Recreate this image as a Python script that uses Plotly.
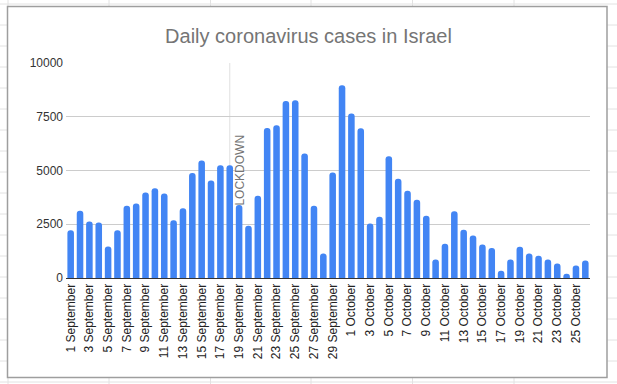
import plotly.graph_objects as go

sep_days = [f"{d} September" for d in range(1, 31)]
oct_days = [f"{d} October" for d in range(1, 27)]
dates = sep_days + oct_days

cases = [
    2220, 3130, 2630, 2580, 1460, 2220, 3360, 3470, 3980, 4170,
    3930, 2690, 3240, 4880, 5470, 4540, 5240, 5240, 3400, 2430,
    3830, 6980, 7110, 8230, 8270, 5790, 3360, 1140, 4910, 8960,
    7650, 6970, 2540, 2850, 5660, 4620, 4060, 3640, 2890, 860,
    1590, 3100, 2240, 1980, 1560, 1400, 340, 860, 1450, 1140,
    1040, 860, 670, 200, 580, 810,
]

tick_labels = dates[::2]
y_ticks = [0, 2500, 5000, 7500, 10000]
y_tick_text = ["0", "2500", "5000", "7500", "10000"]
title_text = "Daily coronavirus cases in Israel"
lockdown_date = "19 September"
lockdown_line_date = "18 September"

W, H = 617, 384
L, R, T, B = 66, 27, 63, 106
PW, PH = W - L - R, H - T - B


def xp(px):
    return (px - L) / PW


def yp(py):
    return (H - B - py) / PH


fig = go.Figure()
fig.add_trace(go.Bar(
    x=dates, y=cases, marker=dict(color="#4285F4", line=dict(width=0)),
    hoverinfo="x+y",
))

shapes = []
# spreadsheet background grid
for k in range(19):
    y = 4 + 21 * k
    shapes.append(dict(type="line", xref="paper", yref="paper",
                       x0=xp(0), x1=xp(W), y0=yp(y), y1=yp(y),
                       line=dict(color="#e2e2e2", width=1), layer="below"))
for x in [8, 109, 210.5, 311, 412.5, 514]:
    shapes.append(dict(type="line", xref="paper", yref="paper",
                       x0=xp(x), x1=xp(x), y0=yp(0), y1=yp(H),
                       line=dict(color="#e2e2e2", width=1), layer="below"))
# chart box
shapes.append(dict(type="rect", xref="paper", yref="paper",
                   x0=xp(7.5), x1=xp(607), y0=yp(377.5), y1=yp(6.5),
                   fillcolor="white", line=dict(color="#9e9e9e", width=1.5),
                   layer="below"))
# lockdown line
shapes.append(dict(type="line", xref="x", yref="y",
                   x0=lockdown_line_date, x1=lockdown_line_date, y0=0, y1=10000,
                   line=dict(color="#e0e0e0", width=1), layer="below"))

fig.update_layout(
    width=W, height=H,
    margin=dict(l=L, r=R, t=T, b=B, pad=0),
    paper_bgcolor="white", plot_bgcolor="white",
    shapes=shapes,
    showlegend=False,
    bargap=0.3,
    barcornerradius=3,
    font=dict(family="Arial, Liberation Sans, sans-serif", size=12, color="#333333"),
    title=dict(text=title_text, x=0.5, xref="container", y=1 - 36 / H,
               yref="container", xanchor="center", yanchor="middle",
               font=dict(size=20, color="#757575",
                         family="Arial, Liberation Sans, sans-serif")),
    xaxis=dict(type="category", tickmode="array", tickvals=tick_labels,
               ticktext=tick_labels, tickangle=-90, showgrid=False,
               showline=True, linecolor="#333333", linewidth=1,
               ticks="", tickfont=dict(size=12, color="#222222"),
               fixedrange=True),
    yaxis=dict(range=[0, 10000], tickmode="array", tickvals=y_ticks,
               ticktext=y_tick_text, showgrid=True,
               gridcolor="#cccccc", gridwidth=1, zeroline=False,
               ticks="", tickfont=dict(size=12, color="#333333"),
               ticklabelstandoff=2, fixedrange=True),
    annotations=[dict(x=lockdown_date, y=5000, xref="x", yref="y",
                      text="LOCKDOWN", textangle=-90, showarrow=False,
                      font=dict(size=12, color="#757575"),
                      xanchor="center", yanchor="middle")],
)

fig.write_html(
    "out.html",
    config={"displayModeBar": False},
    post_script="document.body.style.margin='0';document.body.style.overflow='hidden';",
)
